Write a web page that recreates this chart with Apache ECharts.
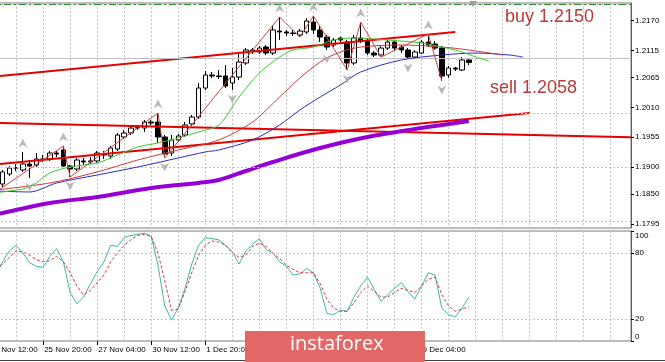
<!DOCTYPE html>
<html><head><meta charset="utf-8">
<script src="https://cdn.jsdelivr.net/npm/echarts@6/dist/echarts.min.js"></script>
<style>html,body{margin:0;padding:0;background:#fff;overflow:hidden}#c{width:665px;height:362px}</style>
</head><body><div id="c"></div>
<script>
// ---- data ----
const barCount = 96; // H4 bar slots on the time axis (incl. chart shift space)
const categories = Array.from({length: barCount}, (_, i) => String(i));
const tickLabels = ['24 Nov 12:00','25 Nov 20:00','27 Nov 04:00','30 Nov 12:00','1 Dec 20:00','3 Dec 04:00','4 Dec 12:00','7 Dec 20:00','9 Dec 04:00'];
const priceTicks = [1.1795, 1.1850, 1.1900, 1.1955, 1.2010, 1.2065, 1.2115, 1.2170];
const stochTicks = [0, 20, 80, 100];
const stochLevels = [20, 80];
// [open, close, low, high]
const candles = [
[1.18761,1.18835,1.18706,1.18909],[1.18835,1.18687,1.18540,1.18872],[1.18687,1.18909,1.18632,1.18946],[1.18872,1.18982,1.18835,1.19019],
[1.18982,1.18992,1.18927,1.19056],[1.18946,1.19056,1.18909,1.19278],[1.19056,1.19019,1.18798,1.19130],[1.19038,1.19148,1.19001,1.19259],
[1.19148,1.19139,1.19093,1.19222],[1.19148,1.19259,1.19112,1.19296],[1.19259,1.19241,1.19185,1.19296],[1.19315,1.19019,1.19001,1.19388],
[1.19019,1.18964,1.18816,1.19038],[1.18964,1.19130,1.18927,1.19167],[1.19112,1.19093,1.19038,1.19167],[1.19093,1.19112,1.19056,1.19185],
[1.19112,1.19259,1.19075,1.19296],[1.19241,1.19222,1.19148,1.19296],[1.19204,1.19351,1.19148,1.19388],[1.19333,1.19591,1.19296,1.19628],
[1.19554,1.19628,1.19517,1.19684],[1.19628,1.19720,1.19591,1.19757],[1.19720,1.19730,1.19684,1.19776],[1.19720,1.19831,1.19647,1.19868],
[1.19831,1.19813,1.19776,1.19868],[1.19831,1.19554,1.19444,1.19997],[1.19554,1.19241,1.19167,1.19591],[1.19259,1.19499,1.19204,1.19591],
[1.19499,1.19573,1.19462,1.19610],[1.19591,1.19776,1.19554,1.19831],[1.19794,1.19923,1.19757,1.19960],[1.19923,1.20458,1.19886,1.20551],
[1.20458,1.20698,1.20422,1.20772],[1.20698,1.20680,1.20643,1.20754],[1.20680,1.20671,1.20624,1.20791],[1.20680,1.20495,1.20458,1.20883],
[1.20551,1.20661,1.20422,1.20827],[1.20661,1.20938,1.20606,1.21104],[1.20920,1.21160,1.20883,1.21196],[1.21160,1.21141,1.21086,1.21196],
[1.21123,1.21196,1.21086,1.21233],[1.21215,1.21104,1.21067,1.21252],[1.21104,1.21529,1.21067,1.21621],[1.21510,1.21492,1.21344,1.21768],
[1.21492,1.21473,1.21418,1.21529],[1.21473,1.21464,1.21418,1.21529],[1.21436,1.21510,1.21399,1.21547],[1.21492,1.21695,1.21455,1.21750],
[1.21676,1.21529,1.21455,1.21787],[1.21529,1.21399,1.21307,1.21602],[1.21399,1.21215,1.21160,1.21436],[1.21252,1.21344,1.21215,1.21381],
[1.21381,1.21344,1.21307,1.21399],[1.21307,1.20920,1.20791,1.21344],[1.20920,1.21381,1.20883,1.21436],[1.21381,1.21326,1.21289,1.21676],
[1.21326,1.21104,1.21067,1.21362],[1.21104,1.21067,1.21030,1.21141],[1.21067,1.21196,1.21030,1.21233],[1.21196,1.21307,1.21160,1.21344],
[1.21307,1.21196,1.21160,1.21344],[1.21215,1.21160,1.21104,1.21252],[1.21160,1.21030,1.20993,1.21196],[1.21030,1.21123,1.21012,1.21160],
[1.21104,1.21307,1.21086,1.21344],[1.21307,1.21252,1.21215,1.21455],[1.21270,1.21196,1.21160,1.21326],[1.21196,1.20680,1.20588,1.21233],
[1.20698,1.20827,1.20643,1.20864],[1.20827,1.20809,1.20772,1.20846],[1.20791,1.20975,1.20772,1.21030],[1.20975,1.20930,1.20883,1.20993]
];
// [bar, price] points
const lipsGreen = [[1,1.18520],[2,1.18540],[6,1.18632],[9,1.18890],[12,1.19001],[16,1.19075],[19,1.19222],[22,1.19370],[25,1.19444],[28,1.19536],[31,1.19647],[34,1.19776],[37,1.20292],[40,1.20735],[43,1.21030],[45,1.21160],[48,1.21215],[51,1.21344],[54,1.21381],[59,1.21344],[64,1.21289],[67,1.21215],[70,1.21123],[72,1.21030],[74,1.20957]];
const teethRed = [[1,1.18577],[9,1.18706],[16,1.18909],[22,1.19130],[28,1.19315],[34,1.19499],[39,1.19831],[43,1.20292],[46,1.20643],[49,1.20938],[52,1.21123],[55,1.21215],[61,1.21252],[67,1.21215],[71,1.21160],[76,1.21067]];
const jawBlue = [[1,1.18558],[6,1.18540],[10,1.18706],[16,1.18853],[22,1.19001],[28,1.19167],[32,1.19278],[34,1.19315],[39,1.19499],[43,1.19776],[46,1.20053],[49,1.20292],[52,1.20514],[55,1.20754],[61,1.20975],[67,1.21067],[72,1.21104],[77,1.21067],[79,1.21030]];
const maPurple = [[0,1.18115],[2,1.18152],[9,1.18337],[16,1.18447],[24,1.18613],[31,1.18706],[34,1.18761],[38,1.18927],[42,1.19093],[49,1.19351],[56,1.19554],[64,1.19720],[67,1.19776],[71,1.19850]];
const zigzag = [[1,1.18540],[11,1.19388],[12,1.18816],[25,1.19997],[26,1.19167],[43,1.21768],[46,1.21399],[48,1.21787],[53,1.20791],[55,1.21676],[58,1.21030],[65,1.21455],[67,1.20588]];
const fractalUpBars = [5, 11, 25, 43, 48, 55, 65];
const fractalDownBars = [6, 12, 26, 36, 50, 53, 62, 67];
const trendUpper = [[0,1.20661],[69,1.21492]];
const trendMiddle = [[0,1.19817],[95,1.19549]];
const trendLower = [[0,1.19037],[80,1.19998]];
const levelsGreen = [1.2150, 1.2077];
const levelsOrange = [1.2122, 1.2105];
const bidPrice = 1.2093;
const stochMain = [[1,60],[2,72],[3,82],[4,87],[5,80],[6,71],[7,68],[8,67],[9,77],[10,84],[11,72],[12,44],[13,34],[14,40],[15,52],[16,63],[17,72],[18,87],[19,86],[20,94],[21,96],[22,97],[23,98],[24,95],[25,69],[26,32],[27,19],[28,30],[29,48],[30,70],[31,87],[32,94],[33,93],[34,92],[35,87],[36,81],[37,70],[38,82],[39,88],[40,93],[41,83],[42,80],[43,72],[44,68],[45,60],[46,61],[47,66],[48,62],[49,48],[50,25],[51,24],[52,28],[53,27],[54,40],[55,50],[56,58],[57,47],[58,36],[59,42],[60,48],[61,53],[62,45],[63,38],[64,50],[65,62],[66,60],[67,30],[68,24],[69,22],[70,30],[71,40]];
const stochSignal = [[1,66],[2,70],[3,76],[4,82],[5,81],[6,78],[7,74],[8,72],[9,73],[10,77],[11,72],[12,62],[13,50],[14,42],[15,46],[16,53],[17,60],[18,72],[19,80],[20,87],[21,92],[22,96],[23,97],[24,95],[25,80],[26,55],[27,28],[28,29],[29,45],[30,62],[31,78],[32,87],[33,91],[34,90],[35,87],[36,80],[37,76],[38,78],[39,86],[40,89],[41,86],[42,80],[43,75],[44,69],[45,65],[46,62],[47,62],[48,62],[49,52],[50,38],[51,30],[52,27],[53,27],[54,35],[55,44],[56,50],[57,45],[58,40],[59,40],[60,44],[61,48],[62,46],[63,44],[64,50],[65,56],[66,58],[67,42],[68,32],[69,27],[70,29],[71,31]];

// ---- chart ----
const FONT = '"Liberation Sans", Arial, sans-serif';
const chart = echarts.init(document.getElementById('c'), null, {renderer: 'canvas'});
const labelEvery = 8;
const isLabelBar = (i) => i % labelEvery === 0 && i / labelEvery < tickLabels.length;
const gridLine = {color: '#c4c4c4', type: [2, 2], width: 1};
const dashDot = [7, 3, 2, 3];
const arrowPath = 'path://M5,0 L10,10 L5,7 L0,10 Z';

const option = {
  animation: false,
  backgroundColor: '#ffffff',
  grid: [
    {left: -10.93, right: 34, top: 3, height: 225, outerBoundsMode: 'none', containLabel: false, show: true, borderColor: '#7a7a7a', borderWidth: 1, backgroundColor: 'transparent'},
    {left: -10.93, right: 34, top: 231, height: 110, outerBoundsMode: 'none', containLabel: false, show: true, borderColor: '#7a7a7a', borderWidth: 1, backgroundColor: 'transparent'}
  ],
  xAxis: [
    {type: 'category', gridIndex: 0, data: categories, boundaryGap: false,
     axisLine: {show: false}, axisTick: {show: false}, axisLabel: {show: false},
     splitLine: {show: true, interval: (i) => i % 4 === 0, lineStyle: gridLine}},
    {type: 'category', gridIndex: 1, data: categories, boundaryGap: false,
     axisLine: {show: false},
     axisTick: {show: true, interval: (i) => isLabelBar(i), length: 4, lineStyle: {color: '#000'}},
     axisLabel: {show: true, interval: (i) => isLabelBar(i), formatter: (v, i) => isLabelBar(i) ? tickLabels[i / labelEvery] : '',
       align: 'left', fontSize: 8, fontFamily: FONT, color: '#000', margin: 5, padding: [0, 0, 0, 1], showMinLabel: true},
     splitLine: {show: true, interval: (i) => i % 4 === 0, lineStyle: gridLine}}
  ],
  yAxis: [
    {type: 'value', gridIndex: 0, position: 'right', min: 1.17875, max: 1.22027, scale: true,
     axisLine: {show: true, lineStyle: {color: '#606060'}},
     axisTick: {show: true, length: 3, customValues: priceTicks, lineStyle: {color: '#000'}},
     axisLabel: {show: true, customValues: priceTicks, formatter: (v) => v.toFixed(4), fontSize: 8, fontFamily: FONT, color: '#000', margin: 4},
     splitLine: {show: false}},
    {type: 'value', gridIndex: 1, position: 'right', min: 0, max: 100,
     axisLine: {show: true, lineStyle: {color: '#606060'}},
     axisTick: {show: true, length: 3, customValues: stochTicks, lineStyle: {color: '#000'}},
     axisLabel: {show: true, customValues: stochTicks, fontSize: 8, fontFamily: FONT, color: '#000', margin: 4,
       formatter: (v) => v === 100 ? '{t|100}' : (v === 0 ? '{b|0}' : String(v)),
       rich: {t: {padding: [10, 0, 0, 0], fontSize: 8, fontFamily: FONT, color: '#000'},
              b: {padding: [0, 0, 8, 0], fontSize: 8, fontFamily: FONT, color: '#000'}}},
     splitLine: {show: false}}
  ],
  series: [
    {type: 'line', xAxisIndex: 0, yAxisIndex: 0, data: [], z: 1, silent: true,
     markLine: {silent: true, symbol: ['none', 'none'], label: {show: false}, lineStyle: gridLine,
       data: priceTicks.map(v => ({yAxis: v}))}},
    {type: 'line', xAxisIndex: 1, yAxisIndex: 1, data: [], z: 1, silent: true,
     markLine: {silent: true, symbol: ['none', 'none'], label: {show: false}, lineStyle: gridLine,
       data: stochLevels.map(v => ({yAxis: v}))}},
    {type: 'line', xAxisIndex: 0, yAxisIndex: 0, data: [], z: 2, silent: true,
     markLine: {silent: true, symbol: ['none', 'none'], label: {show: false},
       data: [
         ...levelsGreen.map(v => ({yAxis: v, lineStyle: {color: '#2e8b2e', type: dashDot, width: 1}})),
         ...levelsOrange.map(v => ({yAxis: v, lineStyle: {color: '#f0885a', type: dashDot, width: 1}})),
         {yAxis: bidPrice, lineStyle: {color: '#c0c0c0', type: 'solid', width: 1}}
       ]}},
    {type: 'candlestick', xAxisIndex: 0, yAxisIndex: 0, data: candles, barWidth: 5, z: 3,
     itemStyle: {color: '#ffffff', color0: '#000000', borderColor: '#000000', borderColor0: '#000000', borderWidth: 1}},
    ...[trendUpper, trendMiddle, trendLower].map(d => ({type: 'line', xAxisIndex: 0, yAxisIndex: 0, data: d, z: 4,
       symbol: 'none', lineStyle: {color: '#e60000', width: 2}})),
    {type: 'line', xAxisIndex: 0, yAxisIndex: 0, data: maPurple, z: 4, symbol: 'none', smooth: 0.4, lineStyle: {color: '#9400d3', width: 4}},
    {type: 'line', xAxisIndex: 0, yAxisIndex: 0, data: jawBlue, z: 5, symbol: 'none', smooth: 0.3, lineStyle: {color: '#2b2bc8', width: 1}},
    {type: 'line', xAxisIndex: 0, yAxisIndex: 0, data: teethRed, z: 5, symbol: 'none', smooth: 0.3, lineStyle: {color: '#c83c3c', width: 1}},
    {type: 'line', xAxisIndex: 0, yAxisIndex: 0, data: lipsGreen, z: 5, symbol: 'none', smooth: 0.3, lineStyle: {color: '#33cc33', width: 1}},
    {type: 'line', xAxisIndex: 0, yAxisIndex: 0, data: zigzag, z: 5, symbol: 'none', lineStyle: {color: '#cc4444', width: 1}},
    {type: 'scatter', xAxisIndex: 0, yAxisIndex: 0, z: 6, symbol: arrowPath, symbolSize: [9, 9], symbolOffset: [0, -9],
     itemStyle: {color: '#a8a8a8'}, data: fractalUpBars.map(i => [i, candles[i][3]])},
    {type: 'scatter', xAxisIndex: 0, yAxisIndex: 0, z: 6, symbol: arrowPath, symbolSize: [9, 9], symbolRotate: 180, symbolOffset: [0, 9],
     itemStyle: {color: '#a8a8a8'}, data: fractalDownBars.map(i => [i, candles[i][2]])},
    {type: 'line', xAxisIndex: 0, yAxisIndex: 0, data: [], z: 10, silent: true,
     markLine: {silent: true, symbol: ['none', 'none'], lineStyle: {opacity: 0},
       data: [{yAxis: bidPrice, label: {show: true, position: 'end', distance: 1, formatter: bidPrice.toFixed(4),
         backgroundColor: '#000', color: '#fff', padding: [2, 2, 1, 2], fontSize: 8, fontFamily: FONT}}]}},
    {type: 'line', xAxisIndex: 1, yAxisIndex: 1, data: stochMain, z: 4, symbol: 'none', lineStyle: {color: '#3fb6a8', width: 1}},
    {type: 'line', xAxisIndex: 1, yAxisIndex: 1, data: stochSignal, z: 4, symbol: 'none', lineStyle: {color: '#d23a4a', width: 1, type: [3, 2]}}
  ],
  graphic: [
    {type: 'text', left: 505, top: 8, z: 20, style: {text: 'buy 1.2150', font: '18px ' + FONT, fill: '#b83a3a'}},
    {type: 'text', left: 490, top: 79, z: 20, style: {text: 'sell 1.2058', font: '18px ' + FONT, fill: '#b83a3a'}},
    {type: 'polygon', z: 20, shape: {points: [[469, 1], [477, 1], [473, 7]]}, style: {fill: '#a0a0a0'}},
    {type: 'line', z: 20, shape: {x1: 0, y1: 360.5, x2: 665, y2: 360.5}, style: {stroke: '#404040', lineWidth: 1}},
    {type: 'rect', zlevel: 5, z: 100, shape: {x: 245, y: 331, width: 180, height: 31}, style: {fill: 'rgb(226,104,104)'}},
    {type: 'text', zlevel: 5, z: 101, x: 290, y: 334, style: {text: 'instaforex', font: '20px "Open Sans", ' + FONT, fill: '#ffffff'}}
  ]
};
chart.setOption(option);
</script></body></html>
